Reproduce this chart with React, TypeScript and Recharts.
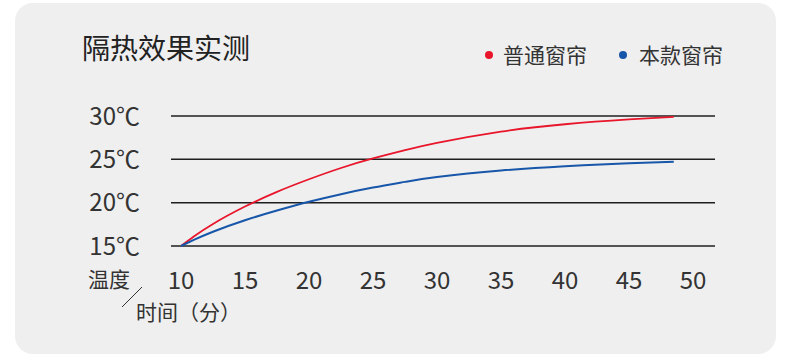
import React from "react";
import { LineChart, Line, XAxis, YAxis, CartesianGrid } from "recharts";

// ---------- Data ----------

const MINUTES = [10, 11, 12.5, 15, 17.5, 20, 22.5, 25, 27.5, 30, 35, 40, 45, 48.5];
const NORMAL_TEMPS = [15, 16.1, 17.55, 19.55, 21.25, 22.7, 24.0, 25.1, 26.05, 26.9, 28.2, 29.05, 29.6, 29.9];
const PRODUCT_TEMPS = [15, 15.7, 16.65, 17.97, 19.09, 20.1, 20.98, 21.74, 22.4, 22.95, 23.7, 24.2, 24.55, 24.72];

const X_TICKS = [10, 15, 20, 25, 30, 35, 40, 45, 50];
const Y_TICKS = [15, 20, 25, 30];

const SERIES = [
    { key: "normal", name: "普通窗帘", color: "#e8152b", width: 1.8 },
    { key: "product", name: "本款窗帘", color: "#1756a9", width: 2 },
];

const chartData = MINUTES.map((m, i) => ({
    minute: m,
    normal: NORMAL_TEMPS[i],
    product: PRODUCT_TEMPS[i],
}));

const FONT = '"Noto Sans CJK SC", "Noto Sans", sans-serif';
const TEXT = "#333";

export default function App() {
    return (
        <div style={{ position: "absolute", left: 0, top: 0, width: 790, height: 364, background: "#fff", fontFamily: FONT }}>
            {/* card */}
            <div style={{ position: "absolute", left: 15, top: 3, width: 761, height: 351, background: "#efefef", borderRadius: 18 }} />

            {/* title */}
            <div style={{ position: "absolute", left: 82, top: 33, fontSize: 28, lineHeight: "28px", color: "#222" }}>
                隔热效果实测
            </div>

            {/* legend */}
            <div style={{ position: "absolute", left: 485, top: 44, display: "flex", alignItems: "center", fontSize: 21, lineHeight: "21px", color: TEXT }}>
                {SERIES.map((s, i) => (
                    <div key={s.key} style={{ display: "flex", alignItems: "center", marginLeft: i === 0 ? 0 : 32 }}>
                        <span style={{ width: 8, height: 8, borderRadius: 4, background: s.color, display: "inline-block", marginRight: i === 0 ? 10 : 12 }} />
                        <span>{s.name}</span>
                    </div>
                ))}
            </div>

            <div style={{ position: "absolute", left: 0, top: 0 }}>
                <LineChart width={790} height={364} data={chartData} margin={{ top: 116, right: 75, left: 71, bottom: 58 }}>
                    <CartesianGrid vertical={false} stroke="#1f1f1f" strokeWidth={1.5} />
                    <XAxis
                        dataKey="minute"
                        type="number"
                        domain={[9.22, 51.72]}
                        ticks={X_TICKS}
                        interval={0}
                        height={60}
                        axisLine={false}
                        tickLine={false}
                        tickSize={0}
                        tickMargin={26}
                        tick={{ fontSize: 24, fill: TEXT, fontFamily: FONT }}
                    />
                    <YAxis
                        type="number"
                        domain={[15, 30]}
                        ticks={Y_TICKS}
                        width={100}
                        axisLine={false}
                        tickLine={false}
                        tickSize={0}
                        tickMargin={31}
                        tickFormatter={(v: number) => `${v}℃`}
                        tick={{ fontSize: 24, fill: TEXT, fontFamily: FONT }}
                    />
                    {SERIES.map((s) => (
                        <Line
                            key={s.key}
                            type="natural"
                            dataKey={s.key}
                            name={s.name}
                            stroke={s.color}
                            strokeWidth={s.width}
                            dot={false}
                            isAnimationActive={false}
                        />
                    ))}
                </LineChart>
            </div>

            {/* corner axis label */}
            <div style={{ position: "absolute", left: 88, top: 268, fontSize: 21, lineHeight: "21px", color: TEXT }}>温度</div>
            <svg style={{ position: "absolute", left: 0, top: 0 }} width={790} height={364}>
                <line x1={142} y1={287} x2={122} y2={307} stroke={TEXT} strokeWidth={1} />
            </svg>
            <div style={{ position: "absolute", left: 136, top: 301, fontSize: 21, lineHeight: "21px", color: TEXT }}>时间（分）</div>
        </div>
    );
}
